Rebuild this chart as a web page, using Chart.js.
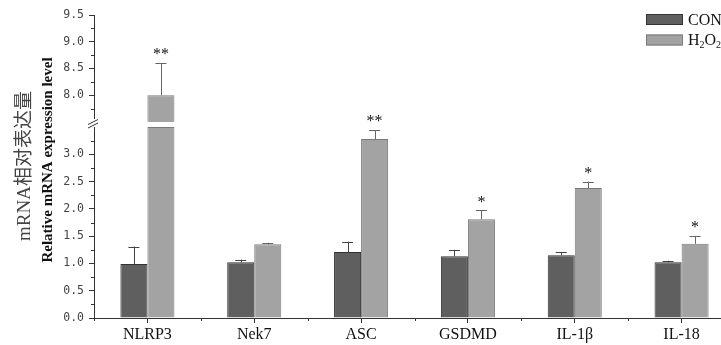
<!DOCTYPE html>
<html><head><meta charset="utf-8">
<script src="https://cdn.jsdelivr.net/npm/chart.js@4.4.1/dist/chart.umd.min.js"></script>
<style>html,body{margin:0;padding:0;overflow:hidden;background:#fff;width:721px;height:345px}canvas{display:block}</style>
</head><body>
<canvas id="c" width="740" height="345"></canvas>
<script>
const categories = ['NLRP3', 'Nek7', 'ASC', 'GSDMD', 'IL-1β', 'IL-18'];
const conValues = [0.99, 1.02, 1.21, 1.13, 1.15, 1.02];
const conErrors = [0.32, 0.05, 0.19, 0.12, 0.06, 0.03];
const h2o2Values = [8.0, 1.35, 3.28, 1.81, 2.38, 1.36];
const h2o2Errors = [0.60, 0.03, 0.16, 0.16, 0.12, 0.14];
const h2o2Sig = ['**', '', '**', '*', '*', '*'];
const lowTicks = [0.0, 0.5, 1.0, 1.5, 2.0, 2.5, 3.0];
const highTicks = [8.0, 8.5, 9.0, 9.5];
const LOW_MIN = 0, LOW_MAX = 3.5, HIGH_MIN = 7.5, HIGH_MAX = 9.5;

const CON_FILL = '#5f5f5f', CON_EDGE = '#333333';
const H_FILL = '#a3a3a3', H_EDGE = '#7a7a7a';
const AXIS = '#333333';

const h2o2Low = h2o2Values.map(v => Math.min(v, LOW_MAX));
const h2o2High = h2o2Values.map(v => v > LOW_MAX ? v : null);

const isMajor = v => Math.abs(v * 2 - Math.round(v * 2)) < 1e-6;
const near = (a, b) => Math.abs(a - b) < 1e-6;

function yScaleOpts(min, max, weight, labelled, hideVal) {
  return {
    type: 'linear', position: 'left', stack: 'v', stackWeight: weight,
    min: min, max: max, stacked: false,
    afterFit: s => { s.width = 94; },
    border: { display: true, color: AXIS, width: 1 },
    grid: {
      drawOnChartArea: false, drawTicks: true, tickLength: 5,
      tickColor: ctx => (isMajor(ctx.tick.value) && !near(ctx.tick.value, hideVal) && labelled.some(t => near(t, ctx.tick.value))) ? AXIS : 'rgba(0,0,0,0)'
    },
    ticks: {
      stepSize: 0.25, autoSkip: false, padding: 5, color: '#444',
      font: { family: 'DejaVu Sans Mono', size: 11.5 },
      callback: v => labelled.some(t => near(t, v)) ? Number(v).toFixed(1) : ''
    }
  };
}

const extrasPlugin = {
  id: 'extras',
  afterDatasetsDraw(chart) {
    const ctx = chart.ctx;
    const yL = chart.scales.yLow, yH = chart.scales.yHigh;
    ctx.save();
    const drawErr = (el, v, e, color) => {
      const sc = v > LOW_MAX ? yH : yL;
      const yb = sc.getPixelForValue(v), yt = sc.getPixelForValue(v + e);
      ctx.strokeStyle = color; ctx.lineWidth = 1;
      ctx.beginPath();
      ctx.moveTo(Math.round(el.x) + 0.5, yb); ctx.lineTo(Math.round(el.x) + 0.5, yt);
      ctx.moveTo(el.x - 5.5, Math.round(yt) + 0.5); ctx.lineTo(el.x + 5.5, Math.round(yt) + 0.5);
      ctx.stroke();
      return yt;
    };
    const mCon = chart.getDatasetMeta(0), mLow = chart.getDatasetMeta(1);
    categories.forEach((c, i) => {
      drawErr(mCon.data[i], conValues[i], conErrors[i], '#444');
      const yt = drawErr(mLow.data[i], h2o2Values[i], h2o2Errors[i], '#666');
      if (h2o2Sig[i]) {
        ctx.fillStyle = '#111';
        ctx.font = '16px "Liberation Serif"';
        ctx.textAlign = 'center'; ctx.textBaseline = 'middle';
        ctx.fillText(h2o2Sig[i], mLow.data[i].x, yt - 8);
      }
    });
    ctx.restore();
  },
  afterDraw(chart) {
    const ctx = chart.ctx;
    const yL = chart.scales.yLow, yH = chart.scales.yHigh, x = chart.scales.x;
    ctx.save();
    ctx.strokeStyle = AXIS; ctx.lineWidth = 1;
    [yL, yH].forEach(sc => {
      sc.ticks.forEach(t => {
        if (!isMajor(t.value)) {
          const py = Math.round(sc.getPixelForValue(t.value)) + 0.5;
          ctx.beginPath(); ctx.moveTo(sc.right - 3, py); ctx.lineTo(sc.right, py); ctx.stroke();
        }
      });
    });
    const n = categories.length;
    const step = (x.right - x.left) / n;
    for (let i = 0; i <= n; i++) {
      const px = Math.round(x.left + i * step) + 0.5;
      ctx.beginPath(); ctx.moveTo(px, x.top); ctx.lineTo(px, x.top + 3); ctx.stroke();
    }
    const ax = yL.right;
    const gTop = yH.bottom, gBot = yL.top;
    ctx.fillStyle = '#fff';
    ctx.fillRect(ax - 1, gTop - 3, 3, gBot - gTop + 3);
    ctx.beginPath();
    ctx.moveTo(ax - 6, gBot - 2.5); ctx.lineTo(ax + 4, gTop - 2.5);
    ctx.moveTo(ax - 6, gBot + 1); ctx.lineTo(ax + 4, gTop + 1);
    ctx.stroke();
    ctx.save();
    ctx.translate(25, 166);
    ctx.rotate(-Math.PI / 2);
    ctx.textAlign = 'center'; ctx.textBaseline = 'middle';
    ctx.fillStyle = '#444';
    ctx.font = '19px "Liberation Serif", "Noto Sans CJK SC"';
    ctx.fillText('mRNA相对表达量', 0, 0);
    ctx.restore();
    ctx.save();
    ctx.translate(48, 160);
    ctx.rotate(-Math.PI / 2);
    ctx.textAlign = 'center'; ctx.textBaseline = 'middle';
    ctx.fillStyle = '#111';
    ctx.font = 'bold 15px "Liberation Serif"';
    ctx.fillText('Relative mRNA expression level', 0, 0);
    ctx.restore();
    const items = [
      { fill: CON_FILL, edge: CON_EDGE, y: 14, parts: [['CON', 0]] },
      { fill: H_FILL, edge: H_EDGE, y: 34.5, parts: [['H', 0], ['2', 1], ['O', 0], ['2', 1]] }
    ];
    items.forEach(it => {
      ctx.fillStyle = it.fill; ctx.fillRect(646, it.y, 37, 11);
      ctx.strokeStyle = it.edge; ctx.strokeRect(646.5, it.y + 0.5, 36, 10);
      let tx = 688;
      ctx.fillStyle = '#111'; ctx.textAlign = 'left'; ctx.textBaseline = 'alphabetic';
      it.parts.forEach(([s, sub]) => {
        ctx.font = sub ? '10px "Liberation Serif"' : '16px "Liberation Serif"';
        ctx.fillText(s, tx, it.y + 10.5 + (sub ? 3 : 0));
        tx += ctx.measureText(s).width;
      });
    });
    ctx.restore();
  }
};

new Chart(document.getElementById('c'), {
  type: 'bar',
  data: {
    labels: categories,
    datasets: [
      { label: 'CON', data: conValues, yAxisID: 'yLow', stack: 'con',
        backgroundColor: CON_FILL, borderColor: CON_EDGE, borderWidth: 1 },
      { label: 'H2O2', data: h2o2Low, yAxisID: 'yLow', stack: 'h2o2',
        backgroundColor: H_FILL, borderColor: H_EDGE, borderWidth: 1 },
      { label: 'H2O2 ', data: h2o2High, yAxisID: 'yHigh', stack: 'h2o2',
        backgroundColor: H_FILL, borderColor: H_EDGE, borderWidth: 1 }
    ]
  },
  options: {
    responsive: false, animation: false,
    categoryPercentage: 0.506, barPercentage: 1.0,
    layout: { padding: { top: 15, right: 5, left: 0, bottom: 0 } },
    plugins: { legend: { display: false }, tooltip: { enabled: false } },
    scales: {
      x: {
        afterFit: s => { s.height = 27; },
        border: { display: true, color: AXIS, width: 1 },
        grid: { drawOnChartArea: false, offset: false, tickLength: 5, tickColor: AXIS },
        ticks: { color: '#111', padding: 2, font: { family: 'Liberation Serif', size: 16 } }
      },
      yLow: yScaleOpts(LOW_MIN, LOW_MAX, 191, lowTicks, LOW_MAX),
      yGap: {
        type: 'linear', position: 'left', stack: 'v', stackWeight: 5,
        afterFit: s => { s.width = 94; },
        border: { display: false }, grid: { display: false }, ticks: { display: false }
      },
      yHigh: yScaleOpts(HIGH_MIN, HIGH_MAX, 107, highTicks, HIGH_MIN)
    }
  },
  plugins: [extrasPlugin]
});
</script>
</body></html>
